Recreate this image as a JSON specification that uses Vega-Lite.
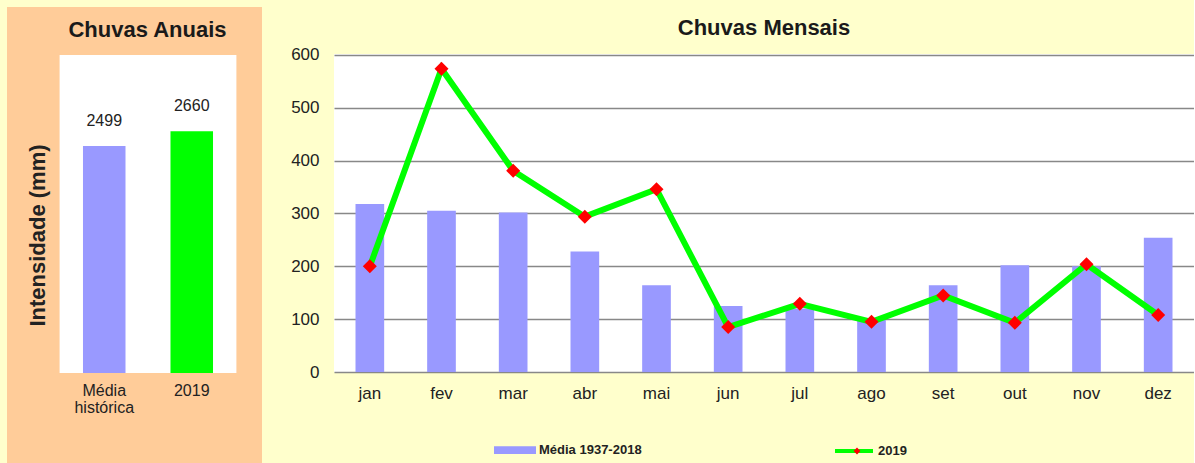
{
  "$schema": "https://vega.github.io/schema/vega-lite/v6.json",
  "background": "#FFFFCC",
  "padding": {"left": 7, "top": 7, "right": 0, "bottom": 0},
  "spacing": 28,
  "resolve": {"scale": {"color": "independent", "shape": "independent"}, "legend": {"color": "independent", "shape": "independent"}},
  "config": {
    "font": "Liberation Sans",
    "view": {"stroke": null},
    "axis": {"labelFont": "Liberation Sans", "titleFont": "Liberation Sans"}
  },
  "datasets": {
    "anual": [
      {"cat": "Média histórica", "valor": 2499},
      {"cat": "2019", "valor": 2660}
    ],
    "mensal": [
      {"mes": "jan", "serie": "Média 1937-2018", "valor": 318},
      {"mes": "fev", "serie": "Média 1937-2018", "valor": 305},
      {"mes": "mar", "serie": "Média 1937-2018", "valor": 302},
      {"mes": "abr", "serie": "Média 1937-2018", "valor": 228},
      {"mes": "mai", "serie": "Média 1937-2018", "valor": 164},
      {"mes": "jun", "serie": "Média 1937-2018", "valor": 125},
      {"mes": "jul", "serie": "Média 1937-2018", "valor": 120},
      {"mes": "ago", "serie": "Média 1937-2018", "valor": 99},
      {"mes": "set", "serie": "Média 1937-2018", "valor": 164},
      {"mes": "out", "serie": "Média 1937-2018", "valor": 202},
      {"mes": "nov", "serie": "Média 1937-2018", "valor": 200},
      {"mes": "dez", "serie": "Média 1937-2018", "valor": 254},
      {"mes": "jan", "serie": "2019", "valor": 200},
      {"mes": "fev", "serie": "2019", "valor": 574},
      {"mes": "mar", "serie": "2019", "valor": 381},
      {"mes": "abr", "serie": "2019", "valor": 294},
      {"mes": "mai", "serie": "2019", "valor": 346},
      {"mes": "jun", "serie": "2019", "valor": 85},
      {"mes": "jul", "serie": "2019", "valor": 129},
      {"mes": "ago", "serie": "2019", "valor": 95},
      {"mes": "set", "serie": "2019", "valor": 145},
      {"mes": "out", "serie": "2019", "valor": 93},
      {"mes": "nov", "serie": "2019", "valor": 204},
      {"mes": "dez", "serie": "2019", "valor": 108}
    ]
  },
  "hconcat": [
    {
      "width": 255,
      "height": 456,
      "view": {"fill": "#FFCC99", "stroke": null},
      "title": {"text": "Chuvas Anuais", "fontSize": 22, "fontWeight": "bold", "color": "#1a1a1a", "anchor": "middle", "offset": -35, "dx": 13},
      "data": {"name": "anual"},
      "encoding": {
        "x": {
          "field": "cat", "type": "nominal", "sort": null,
          "scale": {"domain": ["Média histórica", "2019"], "paddingInner": 0.514, "paddingOuter": 0.714, "align": 0.608},
          "axis": {"orient": "bottom", "offset": -90, "title": null, "domain": false, "ticks": false, "labelAngle": 0, "labelFontSize": 16, "labelColor": "#222222", "labelPadding": 9, "labelExpr": "split(datum.label, ' ')", "labelLineHeight": 17}
        }
      },
      "layer": [
        {
          "mark": {"type": "bar", "color": "white", "width": {"band": 2.1}},
          "encoding": {
            "y": {"datum": 3500, "type": "quantitative", "scale": {"domain": [-990, 4028], "nice": false, "zero": false},
              "axis": {"title": "Intensidade (mm)", "titleFontSize": 22, "titleFontWeight": "bold", "titleColor": "#222222", "offset": -42, "titlePadding": 0, "labels": false, "ticks": false, "domain": false, "grid": false}},
            "y2": {"datum": 0}
          }
        },
        {
          "mark": {"type": "bar"},
          "encoding": {
            "y": {"field": "valor", "type": "quantitative"},
            "y2": {"datum": 0},
            "color": {"field": "cat", "type": "nominal", "scale": {"domain": ["Média histórica", "2019"], "range": ["#9999FF", "#00FF00"]}, "legend": null}
          }
        },
        {
          "mark": {"type": "text", "dy": -20, "baseline": "alphabetic", "fontSize": 16, "color": "#222222"},
          "encoding": {
            "y": {"field": "valor", "type": "quantitative"},
            "text": {"field": "valor", "type": "quantitative"}
          }
        }
      ]
    },
    {
      "width": 860,
      "height": 365,
      "view": {"fill": "white", "stroke": null},
      "title": {"text": "Chuvas Mensais", "fontSize": 22, "fontWeight": "bold", "color": "#1a1a1a", "anchor": "middle", "offset": -33},
      "data": {"name": "mensal"},
      "layer": [
        {
          "mark": {"type": "rect", "color": "#FFFFCC"},
          "encoding": {
            "y": {"datum": 602, "type": "quantitative", "scale": {"domain": [0, 690.8], "nice": false, "zero": false},
              "axis": {"title": null, "values": [0, 100, 200, 300, 400, 500, 600], "grid": true, "gridColor": "#888888", "gridWidth": 1.5, "domain": false, "ticks": false, "labelFontSize": 17, "labelPadding": 15, "labelColor": "#222222"}},
            "y2": {"datum": 690.8}
          }
        },
        {
          "transform": [{"filter": "datum.serie === 'Média 1937-2018'"}],
          "mark": {"type": "bar"},
          "encoding": {
            "x": {
              "field": "mes", "type": "nominal", "sort": null,
              "scale": {"paddingInner": 0.6, "paddingOuter": 0.3},
              "axis": {"title": null, "labelAngle": 0, "domain": false, "ticks": false, "labelFontSize": 17, "labelPadding": 13, "labelColor": "#222222"}
            },
            "y": {"field": "valor", "type": "quantitative"},
            "color": {
              "field": "serie", "type": "nominal",
              "scale": {"domain": ["Média 1937-2018", "2019"], "range": ["#9999FF", "#00FF00"]},
              "legend": {
                "orient": "none", "legendX": 160, "legendY": 422, "direction": "horizontal", "title": null,
                "labelFont": "Liberation Sans", "labelFontSize": 13, "labelFontWeight": "bold", "labelColor": "#222222",
                "symbolSize": 1444, "labelOffset": 3, "columnPadding": 185, "padding": 0,
                "encode": {
                  "symbols": {
                    "update": {
                      "shape": {"signal": "datum.value === '2019' ? 'M-1,0H1' : 'M-1,-0.1H1V0.1H-1Z'"},
                      "fill": {"signal": "datum.value === '2019' ? 'transparent' : '#9999FF'"},
                      "stroke": {"signal": "datum.value === '2019' ? '#00FF00' : 'transparent'"},
                      "strokeWidth": {"value": 4},
                      "opacity": {"value": 1}
                    }
                  }
                }
              }
            }
          }
        },
        {
          "transform": [{"filter": "datum.serie === '2019'"}],
          "mark": {"type": "line", "strokeWidth": 6},
          "encoding": {
            "x": {"field": "mes", "type": "nominal", "sort": null},
            "y": {"field": "valor", "type": "quantitative"},
            "color": {"field": "serie", "type": "nominal"}
          }
        },
        {
          "transform": [{"filter": "datum.serie === '2019'"}],
          "mark": {"type": "point", "filled": true, "size": 6050, "color": "#FF0000", "opacity": 1, "strokeWidth": 0},
          "encoding": {
            "x": {"field": "mes", "type": "nominal", "sort": null},
            "y": {"field": "valor", "type": "quantitative"},
            "shape": {
              "field": "serie", "type": "nominal",
              "scale": {"domain": ["2019"], "range": ["M-0.18,0L0,-0.18L0.18,0L0,0.18Z"]},
              "legend": {
                "orient": "none", "legendX": 503, "legendY": 424, "direction": "horizontal", "title": null,
                "labelExpr": "''", "labelFontSize": 13, "labelOffset": 0,
                "symbolSize": 1444, "padding": 0,
                "encode": {
                  "symbols": {
                    "update": {
                      "size": {"value": 1444},
                      "fill": {"value": "#FF0000"},
                      "stroke": {"value": "transparent"},
                      "opacity": {"value": 1}
                    }
                  }
                }
              }
            }
          }
        }
      ]
    }
  ]
}
